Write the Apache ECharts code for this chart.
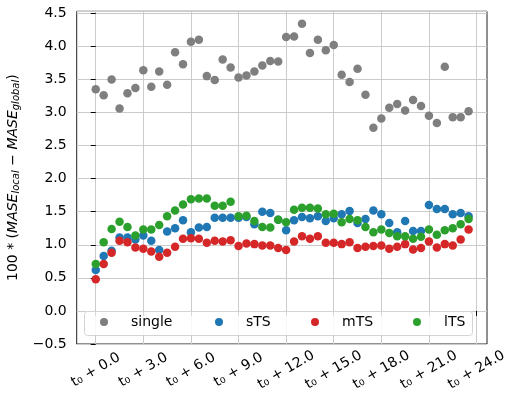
<!DOCTYPE html>
<html>
<head>
<meta charset="utf-8">
<script src="https://cdn.jsdelivr.net/npm/echarts@6/dist/echarts.min.js"></script>
<style>
  html, body { margin: 0; padding: 0; background: #fff; }
  #chart { width: 505px; height: 393px; }
</style>
</head>
<body>
<div id="chart"></div>
<script>
// lead time in hours after t0
const hours = [0, 0.5, 1, 1.5, 2, 2.5, 3, 3.5, 4, 4.5, 5, 5.5, 6, 6.5, 7, 7.5,
  8, 8.5, 9, 9.5, 10, 10.5, 11, 11.5, 12, 12.5, 13, 13.5, 14, 14.5, 15, 15.5,
  16, 16.5, 17, 17.5, 18, 18.5, 19, 19.5, 20, 20.5, 21, 21.5, 22, 22.5, 23, 23.5]

const single = [3.35, 3.26, 3.50, 3.06, 3.29, 3.37, 3.64, 3.39, 3.62, 3.42, 3.91, 3.73,
  4.07, 4.10, 3.55, 3.49, 3.80, 3.68, 3.53, 3.56, 3.62, 3.71, 3.78, 3.77,
  4.14, 4.15, 4.34, 3.90, 4.10, 3.94, 4.02, 3.57, 3.46, 3.66, 3.27, 2.77,
  2.91, 3.07, 3.13, 3.03, 3.19, 3.10, 2.95, 2.84, 3.69, 2.93, 2.93, 3.02]

const sTS = [0.62, 0.83, 0.91, 1.11, 1.11, 1.08, 1.14, 1.06, 0.92, 1.20, 1.25, 1.37,
  1.19, 1.26, 1.27, 1.41, 1.41, 1.41, 1.41, 1.42, 1.31, 1.50, 1.48, 1.38,
  1.22, 1.37, 1.42, 1.40, 1.43, 1.36, 1.40, 1.46, 1.51, 1.33, 1.39, 1.52,
  1.46, 1.33, 1.19, 1.36, 1.21, 1.21, 1.60, 1.54, 1.54, 1.46, 1.48, 1.43]

const mTS = [0.48, 0.71, 0.88, 1.06, 1.04, 0.96, 0.94, 0.90, 0.82, 0.88, 0.97, 1.09,
  1.10, 1.09, 1.03, 1.06, 1.05, 1.07, 0.98, 1.02, 1.01, 0.99, 0.99, 0.95,
  0.92, 1.05, 1.13, 1.09, 1.13, 1.03, 1.03, 1.01, 1.04, 0.95, 0.97, 0.98,
  0.99, 0.94, 0.97, 1.01, 0.93, 0.95, 1.05, 0.96, 1.01, 0.99, 1.08, 1.23]

const lTS = [0.71, 1.04, 1.24, 1.35, 1.27, 1.14, 1.23, 1.23, 1.30, 1.43, 1.52, 1.61,
  1.69, 1.70, 1.70, 1.59, 1.59, 1.65, 1.43, 1.44, 1.36, 1.27, 1.26, 1.38,
  1.34, 1.53, 1.56, 1.56, 1.55, 1.46, 1.47, 1.34, 1.39, 1.37, 1.27, 1.19,
  1.23, 1.18, 1.13, 1.13, 1.09, 1.12, 1.23, 1.15, 1.22, 1.25, 1.31, 1.39]

const seriesNames = ['single', 'sTS', 'mTS', 'lTS']
const xTicks = [0, 3, 6, 9, 12, 15, 18, 21, 24]

const font = 'DejaVu Sans'
const gridColor = '#cbcbcb'
// left edge of each legend entry, like matplotlib's legend columns
const legendLefts = [100, 215, 311, 413]

function pairs(values) {
  return hours.map((h, i) => [h, values[i]])
}

function scatter(name, values, color) {
  return {
    name: name,
    type: 'scatter',
    data: pairs(values),
    symbolSize: 8.5,
    itemStyle: { color: color, opacity: 1 },
    emphasis: { disabled: true }
  }
}

function legendEntry(name, left) {
  return {
    left: left,
    top: 315,
    padding: 0,
    icon: 'circle',
    itemWidth: 20,
    itemHeight: 8,
    selectedMode: false,
    textStyle: { fontFamily: font, fontSize: 14, color: '#000', padding: [0, 0, 0, 12] },
    data: [name]
  }
}

const chart = echarts.init(document.getElementById('chart'))

const option = {
  animation: false,
  textStyle: { fontFamily: font },
  grid: {
    left: 76.7,
    right: 18,
    top: 11.3,
    bottom: 49,
    containLabel: false,
    outerBoundsMode: 'none',
    show: true,
    borderColor: '#222',
    borderWidth: 1
  },
  // legend frame
  graphic: [{
    type: 'rect',
    z: 3,
    shape: { x: 84.5, y: 311.5, width: 388, height: 24, r: 3 },
    style: { fill: 'rgba(255,255,255,0.85)', stroke: '#d4d4d4', lineWidth: 1 }
  }],
  legend: seriesNames.map((n, i) => legendEntry(n, legendLefts[i])),
  xAxis: {
    type: 'value',
    min: -1.2,
    max: 24.66,
    axisLine: { show: false },
    axisTick: { show: true, length: 5, customValues: xTicks, lineStyle: { color: '#000' } },
    axisLabel: {
      customValues: xTicks,
      formatter: v => 't\u2080 + ' + v.toFixed(1),
      rotate: 30,
      align: 'center',
      verticalAlign: 'middle',
      margin: 26,
      fontSize: 14,
      color: '#000',
      fontFamily: font
    },
    splitLine: { show: true, lineStyle: { color: gridColor, width: 1 } }
  },
  yAxis: {
    type: 'value',
    min: -0.5,
    max: 4.53,
    interval: 0.5,
    axisLine: { show: false },
    axisTick: { show: true, length: 5, lineStyle: { color: '#000' } },
    axisLabel: {
      showMaxLabel: false,
      margin: 10,
      fontSize: 14,
      color: '#000',
      fontFamily: font,
      formatter: v => {
        if (Math.abs(v * 2 - Math.round(v * 2)) > 1e-6) return ''
        return (v < 0 ? '\u2212' : '') + Math.abs(v).toFixed(1)
      }
    },
    splitLine: { show: true, lineStyle: { color: gridColor, width: 1 } },
    name: '{r|100 * (}{i|MASE}{s|local}{r| \u2212 }{i|MASE}{s|global}{r|)}',
    nameLocation: 'middle',
    nameRotate: 90,
    nameGap: 50,
    nameTextStyle: {
      rich: {
        r: { fontFamily: font, fontSize: 14, color: '#000' },
        i: { fontFamily: font, fontSize: 14, fontStyle: 'italic', color: '#000' },
        s: { fontFamily: font, fontSize: 10, fontStyle: 'italic', color: '#000', padding: [6, 0, 0, 0] }
      }
    }
  },
  series: [
    scatter('single', single, '#7f7f7f'),
    scatter('sTS', sTS, '#1f77b4'),
    scatter('mTS', mTS, '#d62728'),
    scatter('lTS', lTS, '#2ca02c')
  ]
}

chart.setOption(option)
</script>
</body>
</html>
